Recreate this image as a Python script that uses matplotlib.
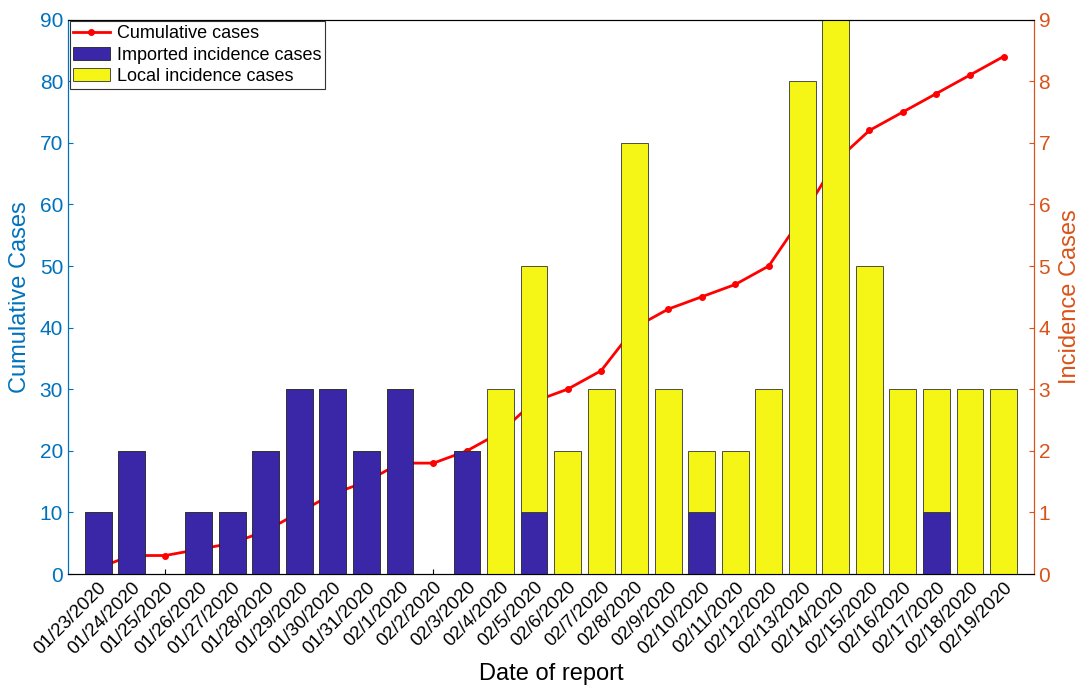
import matplotlib
matplotlib.use("Agg")
import matplotlib.pyplot as plt
import numpy as np

plt.rcParams['font.family'] = ['Liberation Sans', 'DejaVu Sans']

dates = ["01/23/2020","01/24/2020","01/25/2020","01/26/2020","01/27/2020","01/28/2020","01/29/2020",
         "01/30/2020","01/31/2020","02/1/2020","02/2/2020","02/3/2020","02/4/2020","02/5/2020",
         "02/6/2020","02/7/2020","02/8/2020","02/9/2020","02/10/2020","02/11/2020","02/12/2020",
         "02/13/2020","02/14/2020","02/15/2020","02/16/2020","02/17/2020","02/18/2020","02/19/2020"]
imported = [1,2,0,1,1,2,3,3,2,3,0,2,0,1,0,0,0,0,1,0,0,0,0,0,0,1,0,0]
local    = [0,0,0,0,0,0,0,0,0,0,0,0,3,4,2,3,7,3,1,2,3,8,9,5,3,2,3,3]
cumulative = [1,3,3,4,5,7,10,13,15,18,18,20,23,28,30,33,40,43,45,47,50,58,67,72,75,78,81,84]

cl = (0, 0.447, 0.741)
cr = (0.85, 0.325, 0.098)
x = np.arange(len(dates))

fig = plt.figure(figsize=(10.79, 7.0), dpi=100)
ax = fig.add_axes([0.063, 0.18, 0.895, 0.792])
ax2 = ax.twinx()

ax.plot(x, cumulative, '-o', color='red', lw=2, ms=4, label='Cumulative cases')
b1 = ax2.bar(x, imported, width=0.8, color='#3a27a8', edgecolor='#222222', lw=0.6, label='Imported incidence cases')
b2 = ax2.bar(x, local, width=0.8, bottom=imported, color='#f5f516', edgecolor='#333333', lw=0.6, label='Local incidence cases')

ax.set_xlim(-0.9, len(dates) - 0.1)
ax.set_ylim(0, 90)
ax2.set_ylim(0, 9)
ax.set_yticks(range(0, 91, 10))
ax2.set_yticks(range(0, 10))
ax.set_xticks(x)
ax.set_xticklabels(dates, rotation=45, ha='right', rotation_mode='anchor', fontsize=13.5)
ax.tick_params(axis='y', colors=cl, labelsize=15, direction='in')
ax2.tick_params(axis='y', colors=cr, labelsize=15, direction='in')
ax.tick_params(axis='x', direction='in', labelsize=13.5)
ax.set_ylabel('Cumulative Cases', color=cl, fontsize=17, labelpad=6)
ax2.set_ylabel('Incidence Cases', color=cr, fontsize=17, labelpad=6)
ax.set_xlabel('Date of report', fontsize=17)
ax.spines['left'].set_color(cl)
ax2.spines['left'].set_color(cl)
ax2.spines['right'].set_color(cr)
ax.spines['right'].set_color(cr)

h = [ax.lines[0], b1, b2]
leg = ax2.legend(h, [a.get_label() for a in h], loc='upper left', fontsize=13, fancybox=False,
                 edgecolor='#333333', framealpha=1, borderpad=0.2, labelspacing=0.25,
                 handlelength=2, handletextpad=0.4, borderaxespad=0.1)
leg.get_frame().set_linewidth(0.8)

fig.savefig('out.png', dpi=100)
